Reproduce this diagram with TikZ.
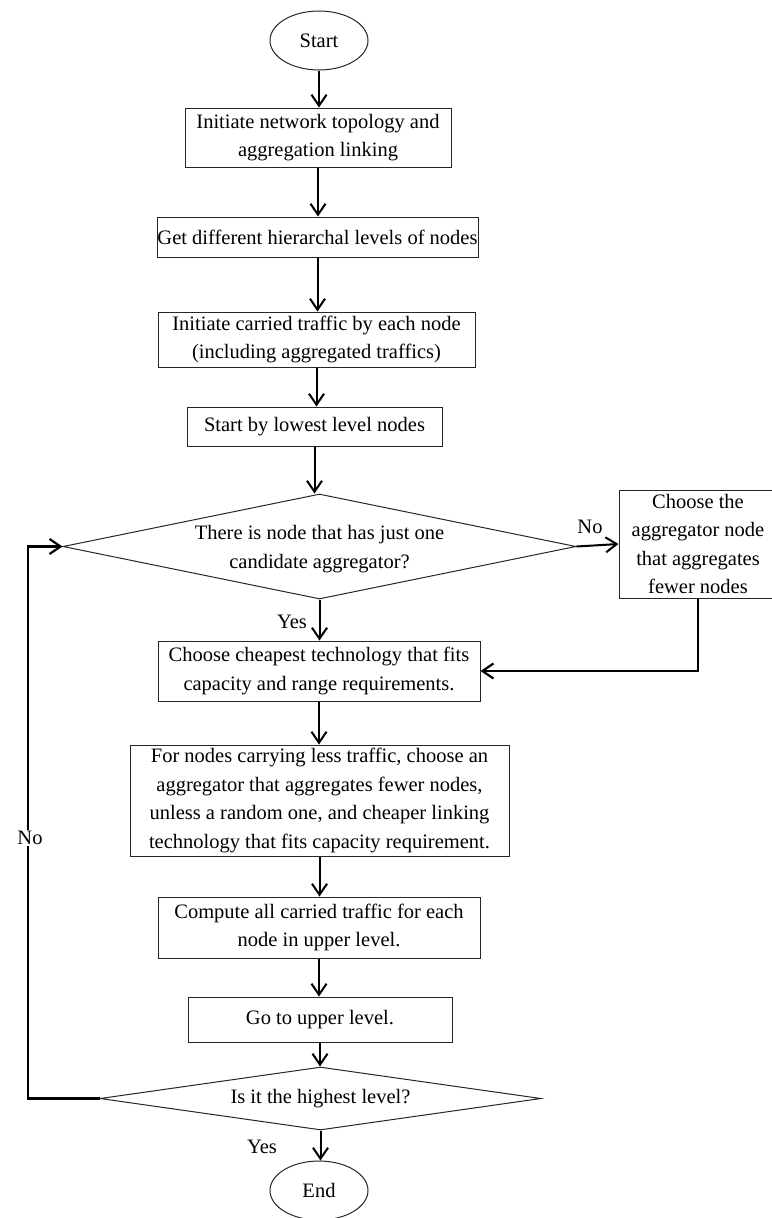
\documentclass[tikz,border=0pt]{standalone}
\usepackage{fontspec}
\setmainfont{Liberation Serif}
\usetikzlibrary{shapes.geometric,arrows.meta}
\begin{document}
\begin{tikzpicture}[x=1pt,y=-1pt,
  font=\fontsize{20.5}{28.5}\selectfont,
  proc/.style={draw=black!85, line width=1pt, inner sep=0pt, align=center},
  term/.style={draw=black!85, line width=1pt, ellipse, inner sep=0pt,
               minimum width=98pt, minimum height=59pt},
  decision/.style={draw=black!85, line width=1pt, diamond, inner sep=0pt},
  arr/.style={line width=2pt, -{Straight Barb[length=11pt,width=15pt]}},
  link/.style={line width=2.2pt},
  lbl/.style={inner sep=1pt}]
\useasboundingbox (0,0) rectangle (771,1218);

% main column
\node[term] (start) at (319,40.5) {Start};
\node[proc, minimum width=266pt, minimum height=59pt] (b1) at (318,137.5)
  {Initiate network topology and\\aggregation linking};
\node[proc, minimum width=321pt, minimum height=40pt] (b2) at (317.5,237)
  {Get different hierarchal levels of nodes};
\node[proc, minimum width=317pt, minimum height=55pt] (b3) at (316.5,339.5)
  {Initiate carried traffic by each node\\(including aggregated traffics)};
\node[proc, minimum width=255pt, minimum height=39pt] (b4) at (314.5,426.5)
  {Start by lowest level nodes};
\node[decision, minimum width=513pt, minimum height=105pt] (d1) at (319.5,546.5) {};
\node[align=center] (d1t) at (319.5,549)
  {There is node that has just one\\candidate aggregator?};
\node[proc, minimum width=158pt, minimum height=108pt] (rb) at (698,544)
  {Choose the\\aggregator node\\that aggregates\\fewer nodes};
\node[proc, minimum width=322pt, minimum height=60pt] (b5) at (319,671)
  {Choose cheapest technology that fits\\capacity and range requirements.};
\node[proc, minimum width=379pt, minimum height=111pt] (b6) at (319.5,800.5)
  {For nodes carrying less traffic, choose an\\aggregator that aggregates fewer nodes,\\unless a random one, and cheaper linking\\technology that fits capacity requirement.};
\node[proc, minimum width=322pt, minimum height=61pt] (b7) at (319,927.5)
  {Compute all carried traffic for each\\node in upper level.};
\node[proc, minimum width=264pt, minimum height=45pt] (b8) at (320,1019.5)
  {Go to upper level.};
\node[decision, minimum width=441pt, minimum height=63pt] (d2) at (320.5,1098.5) {};
\node (d2t) at (320.5,1099) {Is it the highest level?};
\node[term] (end) at (319,1190.5) {End};

% downward flow
\draw[arr] (start.south) -- (start.south |- b1.north);
\draw[arr] (b1.south) -- (b1.south |- b2.north);
\draw[arr] (b2.south) -- (b2.south |- b3.north);
\draw[arr] (b3.south) -- (b3.south |- b4.north);
\draw[arr] (b4.south) -- (b4.south |- d1.north);
\draw[arr] (d1.south) -- (d1.south |- b5.north);
\draw[arr] (b5.south) -- (b5.south |- b6.north);
\draw[arr] (b6.south) -- (b6.south |- b7.north);
\draw[arr] (b7.south) -- (b7.south |- b8.north);
\draw[arr] (b8.south) -- (b8.south |- d2.north);
\draw[arr] (d2.south) -- (d2.south |- end.north);

% "No" branch of the first decision
\draw[arr] (d1.east) -- (rb.west);
\coordinate (rbturn) at (rb.south |- b5.east);
\draw[link, -{Straight Barb[length=11pt,width=15pt]}] (rb.south) -- (rbturn) -- (b5.east);

% loop back from the second decision
\coordinate (lpb) at (28,1098.5);
\coordinate (lpt) at (28,546.5);
\draw[link, -{Straight Barb[length=11pt,width=15pt]}] (d2.west) -- (lpb) -- (lpt) -- (d1.west);

% branch labels
\node[lbl] (no1) at (590,527) {No};
\node[lbl] (yes1) at (292,622) {Yes};
\node[lbl, fill=white] (no2) at (30,838) {No};
\node[lbl] (yes2) at (262,1147) {Yes};
\end{tikzpicture}
\end{document}
